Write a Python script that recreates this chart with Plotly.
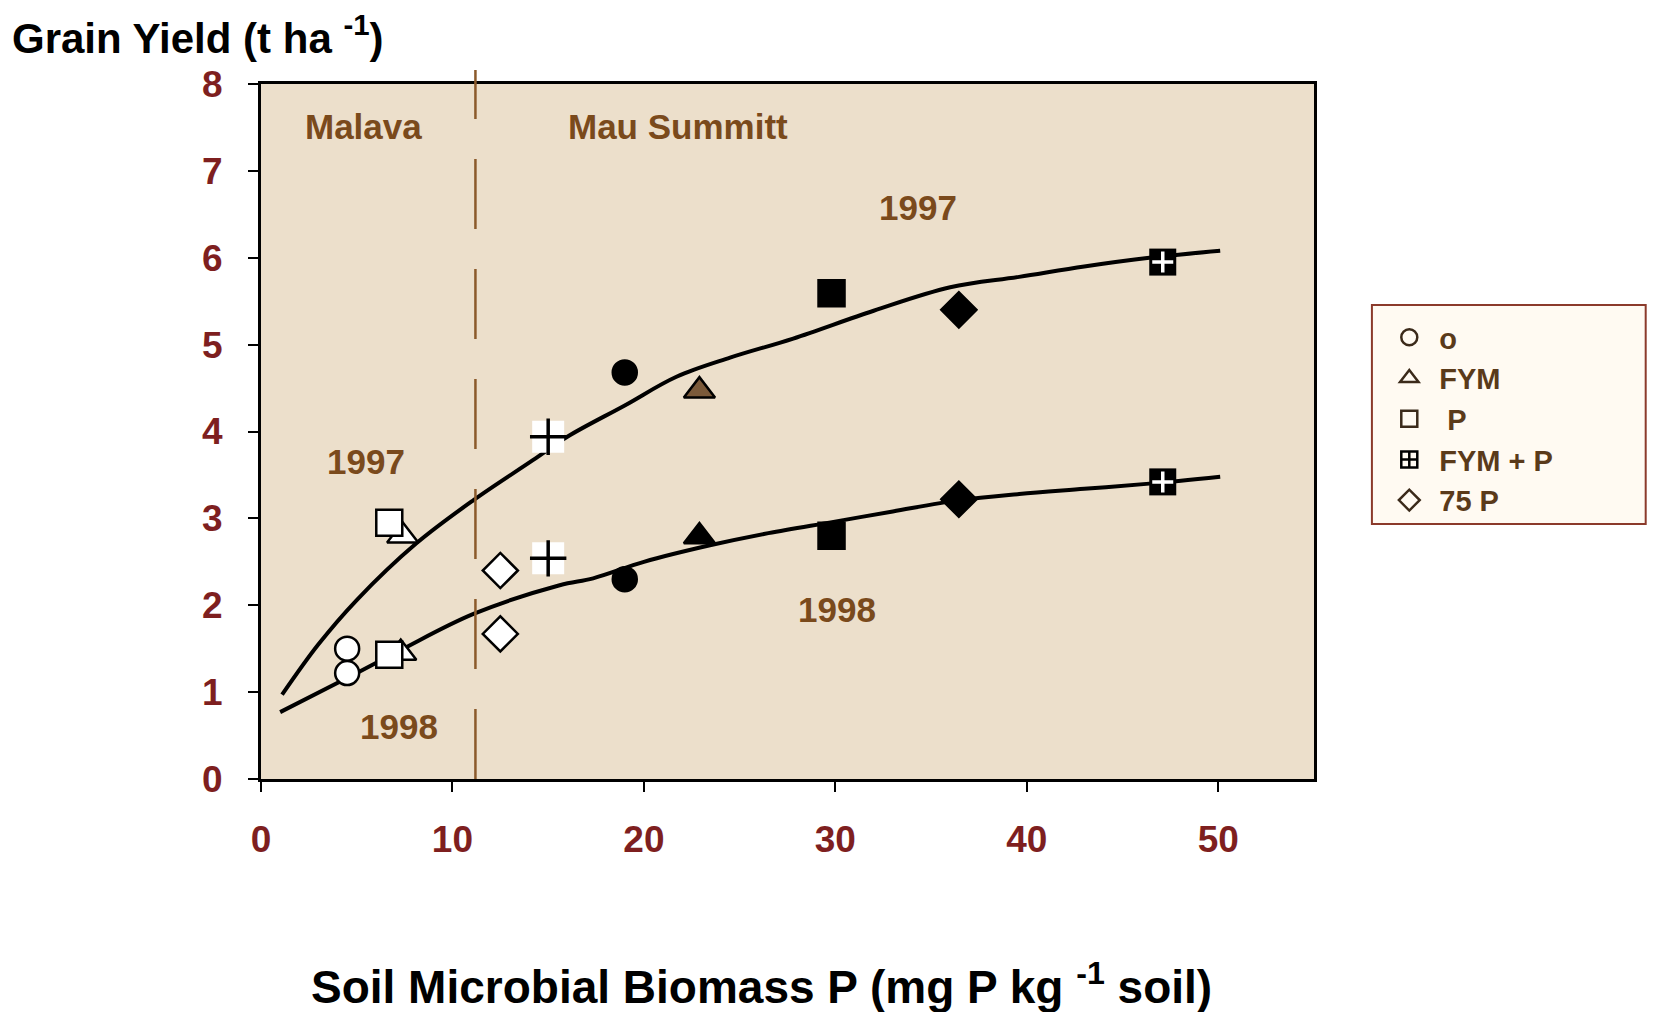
import plotly.graph_objects as go

# fitted curves
curve97_x = [1.1, 3.0, 5.0, 8.1, 11.1, 14.2, 16.0, 19.0, 21.7, 24.5, 27.8, 32.0, 36.0, 39.6, 43.0, 46.4, 50.1]
curve97_y = [0.97, 1.55, 2.06, 2.71, 3.21, 3.67, 3.94, 4.30, 4.63, 4.85, 5.07, 5.39, 5.66, 5.78, 5.90, 6.00, 6.08]
curve98_x = [1.0, 4.65, 7.26, 11.1, 15.6, 17.35, 20.0, 23.45, 26.5, 29.9, 33.0, 36.5, 39.6, 43.0, 46.4, 50.1]
curve98_y = [0.77, 1.18, 1.48, 1.90, 2.23, 2.31, 2.50, 2.69, 2.83, 2.96, 3.08, 3.21, 3.28, 3.34, 3.40, 3.48]

# treatments: Malava 1997, Malava 1998, Mau Summitt 1997, Mau Summitt 1998
ctrl_x = [4.5, 4.5, 19.0, 19.0]
ctrl_y = [1.50, 1.22, 4.68, 2.30]
fym_x = [7.4, 7.3, 22.9, 22.9]
fym_y = [2.80, 1.45, 4.47, 2.79]
p_x = [6.7, 6.7, 29.8, 29.8]
p_y = [2.95, 1.43, 5.59, 2.80]
fymp_x = [15.0, 15.0, 47.1, 47.1]
fymp_y = [3.94, 2.54, 5.95, 3.42]
p75_x = [12.5, 12.5, 36.45, 36.45]
p75_y = [2.40, 1.67, 5.40, 3.22]

legend_names = ["o", "FYM", " P", "FYM + P", "75 P"]

BROWN = "#7A4A1C"
DARKRED = "#7E1F1F"
FONT = "Liberation Sans, Arial, sans-serif"

fig = go.Figure()

for cx, cy in [(curve97_x, curve97_y), (curve98_x, curve98_y)]:
    fig.add_trace(go.Scatter(
        x=cx, y=cy, mode="lines", line=dict(color="black", width=4, shape="spline"),
        showlegend=False, hoverinfo="skip"
    ))


def pts(xs, ys, symbol, fills, size, lw=2.5, lc="black"):
    fig.add_trace(go.Scatter(
        x=xs, y=ys, mode="markers", showlegend=False,
        marker=dict(symbol=symbol, size=size, color=fills, opacity=1,
                    line=dict(color=lc, width=lw))
    ))


pts(fym_x, fym_y, "triangle-up", ["white", "white", "#7B5A3A", "black"], 27)
pts(p_x, p_y, "square", ["white", "white", "black", "black"], 26)
pts(ctrl_x, ctrl_y, "circle", ["white", "white", "black", "black"], 24)
pts(p75_x, p75_y, "diamond", ["white", "white", "black", "black"], 27)
pts(fymp_x, fymp_y, "square", ["white", "white", "black", "black"], [32, 32, 27, 27], lw=0)
fig.add_trace(go.Scatter(
    x=fymp_x, y=fymp_y, mode="markers", showlegend=False,
    marker=dict(symbol="cross-thin", size=[26, 26, 15, 15], opacity=1,
                line=dict(color=["black", "black", "white", "white"], width=3.5))
))

# legend entries
leg_sym = ["circle-open", "triangle-up-open", "square-open", "square-cross-open", "diamond-open"]
leg_col = ["#3B2A1A", "#3B2A1A", "#3B2A1A", "black", "#3B2A1A"]
for name, sym, col in zip(legend_names, leg_sym, leg_col):
    fig.add_trace(go.Scatter(
        x=[None], y=[None], mode="markers", name=name,
        marker=dict(symbol=sym, size=16, color=col, line=dict(color=col, width=2.5))
    ))

# legend frame
fig.add_shape(type="rect", xref="paper", yref="paper", x0=1.055, x1=1.315, y0=0.367, y1=0.682,
              fillcolor="#FFFAF2", line=dict(color="#8B3A2B", width=2), layer="below")

# site divider
fig.add_shape(type="line", x0=11.2, x1=11.2, y0=0, y1=1.02, xref="x", yref="paper",
              line=dict(color="#8B5A2B", width=2.5, dash="70px,40px"), layer="above")

labels = [
    ("Malava", 5.35, 7.51), ("Mau Summitt", 21.8, 7.51),
    ("1997", 34.3, 6.58), ("1997", 5.5, 3.65),
    ("1998", 30.1, 1.95), ("1998", 7.2, 0.61),
]
for txt, lx, ly in labels:
    fig.add_annotation(x=lx, y=ly, text=txt, showarrow=False,
                       font=dict(family=FONT, size=35, color=BROWN, weight="bold"))

fig.add_annotation(xref="paper", yref="paper", x=-0.238, y=1.07, xanchor="left", yanchor="middle",
                   text="Grain Yield (t ha <sup>-1</sup>)", showarrow=False,
                   font=dict(family=FONT, size=42, color="black", weight="bold"))
fig.add_annotation(xref="paper", yref="paper", x=0.475, y=-0.295, xanchor="center", yanchor="middle",
                   text="Soil Microbial Biomass P (mg P kg <sup>-1</sup> soil)", showarrow=False,
                   font=dict(family=FONT, size=46, color="black", weight="bold"))

fig.update_layout(
    width=1641, height=1004,
    margin=dict(l=253, r=335, t=76, b=233),
    paper_bgcolor="white", plot_bgcolor="#ECDFCB",
    legend=dict(x=1.062, y=0.672, xanchor="left", yanchor="top",
                bgcolor="rgba(0,0,0,0)", borderwidth=0, itemwidth=50,
                font=dict(family=FONT, size=29, color="#5A3A1A", weight="bold")),
)
fig.update_xaxes(range=[0, 55], tickvals=[0, 10, 20, 30, 40, 50], showgrid=False, zeroline=False,
                 showline=True, linecolor="black", linewidth=3, mirror=True,
                 ticks="outside", ticklen=10, tickwidth=2, tickcolor="black", ticklabelstandoff=16,
                 tickfont=dict(family=FONT, size=37, color=DARKRED, weight="bold"))
fig.update_yaxes(range=[0, 8], dtick=1, showgrid=False, zeroline=False,
                 showline=True, linecolor="black", linewidth=3, mirror=True,
                 ticks="outside", ticklen=10, tickwidth=2, tickcolor="black", ticklabelstandoff=18,
                 tickfont=dict(family=FONT, size=37, color=DARKRED, weight="bold"))

fig.write_html("out.html")
